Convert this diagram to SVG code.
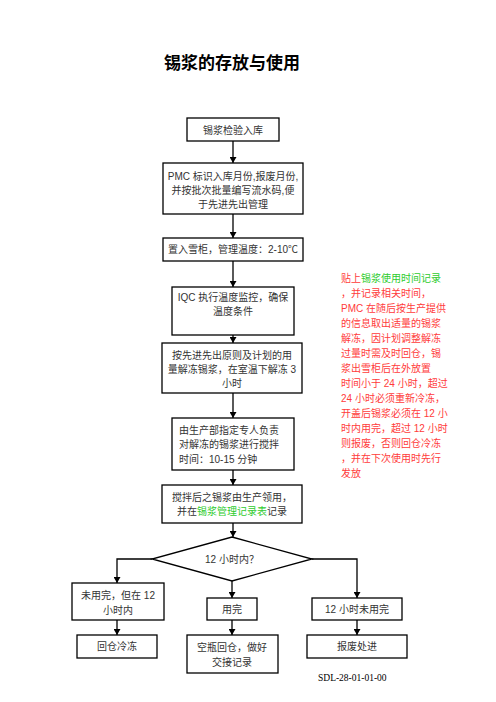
<svg xmlns="http://www.w3.org/2000/svg" width="496" height="702" viewBox="0 0 496 702">
<defs>
<marker id="ah" markerWidth="6" markerHeight="7" refX="6" refY="3.5" orient="auto" markerUnits="userSpaceOnUse">
<path d="M0,0 L6,3.5 L0,7 Z" fill="#000"/>
</marker>
<style>
.box{fill:#fff;stroke:#000;stroke-width:1.3}
.t{font-family:"Liberation Sans","Noto Sans CJK SC",sans-serif;font-size:10px;fill:#333;dominant-baseline:central}
.c{text-anchor:middle}
.title{font-family:"Liberation Sans","Noto Sans CJK SC",sans-serif;font-size:17px;font-weight:bold;fill:#000;text-anchor:middle;dominant-baseline:central}
.red{font-family:"Liberation Sans","Noto Sans CJK SC",sans-serif;font-size:10px;fill:#ff3b3b;dominant-baseline:central}
.grn{fill:#2ecc2e}
.ln{fill:none;stroke:#000;stroke-width:1.3;marker-end:url(#ah)}
.sdl{font-family:"Liberation Serif","Noto Sans CJK SC",serif;font-size:9.5px;fill:#000;dominant-baseline:central}
</style>
</defs>
<rect width="496" height="702" fill="#fff"/>
<text class="title" x="232" y="63">锡浆的存放与使用</text>

<g id="connectors">
<path class="ln" d="M233,141 V163"/>
<path class="ln" d="M233,214 V238"/>
<path class="ln" d="M233,261 V287"/>
<path class="ln" d="M233,335 V343"/>
<path class="ln" d="M233,393 V418"/>
<path class="ln" d="M233,470 V485"/>
<path class="ln" d="M233,523 V537"/>
<path class="ln" d="M152,559 H117 V583"/>
<path class="ln" d="M232,581 V598"/>
<path class="ln" d="M312,559 H357 V598"/>
<path class="ln" d="M117,620 V635"/>
<path class="ln" d="M232,620 V635"/>
<path class="ln" d="M357,620 V635"/>
</g>

<g id="n1"><rect class="box" x="187" y="118" width="92" height="23"/><text class="t c" x="233" y="130">锡浆检验入库</text></g>
<g id="n2"><rect class="box" x="163" y="163" width="140" height="51"/>
<text class="t c" x="233" y="176">PMC 标识入库月份,报废月份,</text>
<text class="t c" x="233" y="190">并按批次批量编写流水码,便</text>
<text class="t c" x="233" y="204">于先进先出管理</text></g>
<g id="n3"><rect class="box" x="163" y="238" width="140" height="23"/><text class="t c" x="233" y="249.5">置入雪柜，管理温度：2-10℃</text></g>
<g id="n4"><rect class="box" x="172" y="287" width="122" height="48"/>
<text class="t c" x="233" y="297">IQC 执行温度监控，确保</text>
<text class="t c" x="233" y="311">温度条件</text></g>
<g id="n5"><rect class="box" x="162" y="343" width="140" height="50"/>
<text class="t c" x="232" y="355">按先进先出原则及计划的用</text>
<text class="t c" x="232" y="369">量解冻锡浆，在室温下解冻 3</text>
<text class="t c" x="232" y="383">小时</text></g>
<g id="n6"><rect class="box" x="172" y="418" width="122" height="52"/>
<text class="t" x="179" y="430">由生产部指定专人负责</text>
<text class="t" x="179" y="444">对解冻的锡浆进行搅拌</text>
<text class="t" x="179" y="459">时间：10-15 分钟</text></g>
<g id="n7"><rect class="box" x="162" y="485" width="140" height="38"/>
<text class="t c" x="232" y="497">搅拌后之锡浆由生产领用，</text>
<text class="t c" x="232" y="511">并在<tspan class="grn">锡浆管理记录表</tspan>记录</text></g>
<g id="n8"><polygon class="box" points="232,537 312,559 232,581 152,559"/><text class="t c" x="232" y="559">12 小时内？</text></g>
<g id="n9"><rect class="box" x="72" y="583" width="92" height="37"/>
<text class="t c" x="118" y="595">未用完，但在 12</text>
<text class="t c" x="118" y="610">小时内</text></g>
<g id="n10"><rect class="box" x="207" y="598" width="50" height="22"/><text class="t c" x="232" y="609">用完</text></g>
<g id="n11"><rect class="box" x="312" y="598" width="90" height="22"/><text class="t c" x="357" y="609">12 小时未用完</text></g>
<g id="n12"><rect class="box" x="77" y="635" width="80" height="23"/><text class="t c" x="117" y="646.5">回仓冷冻</text></g>
<g id="n13"><rect class="box" x="187" y="635" width="91" height="38"/>
<text class="t c" x="232" y="647">空瓶回仓，做好</text>
<text class="t c" x="232" y="662">交接记录</text></g>
<g id="n14"><rect class="box" x="307" y="635" width="100" height="23"/><text class="t c" x="357" y="646.5">报废处进</text></g>

<g id="note">
<text class="red" x="341" y="278">贴上<tspan class="grn">锡浆使用时间记录</tspan></text>
<text class="red" x="341" y="293">，并记录相关时间，</text>
<text class="red" x="341" y="308">PMC 在随后按生产提供</text>
<text class="red" x="341" y="323">的信息取出适量的锡浆</text>
<text class="red" x="341" y="338">解冻，因计划调整解冻</text>
<text class="red" x="341" y="353">过量时需及时回仓，锡</text>
<text class="red" x="341" y="368">浆出雪柜后在外放置</text>
<text class="red" x="341" y="383">时间小于 24 小时，超过</text>
<text class="red" x="341" y="398">24 小时必须重新冷冻，</text>
<text class="red" x="341" y="413">开盖后锡浆必须在 12 小</text>
<text class="red" x="341" y="428">时内用完，超过 12 小时</text>
<text class="red" x="341" y="443">则报废，否则回仓冷冻</text>
<text class="red" x="341" y="458">，并在下次使用时先行</text>
<text class="red" x="341" y="473">发放</text>
</g>
<text class="sdl" x="318" y="678">SDL-28-01-01-00</text>
</svg>
